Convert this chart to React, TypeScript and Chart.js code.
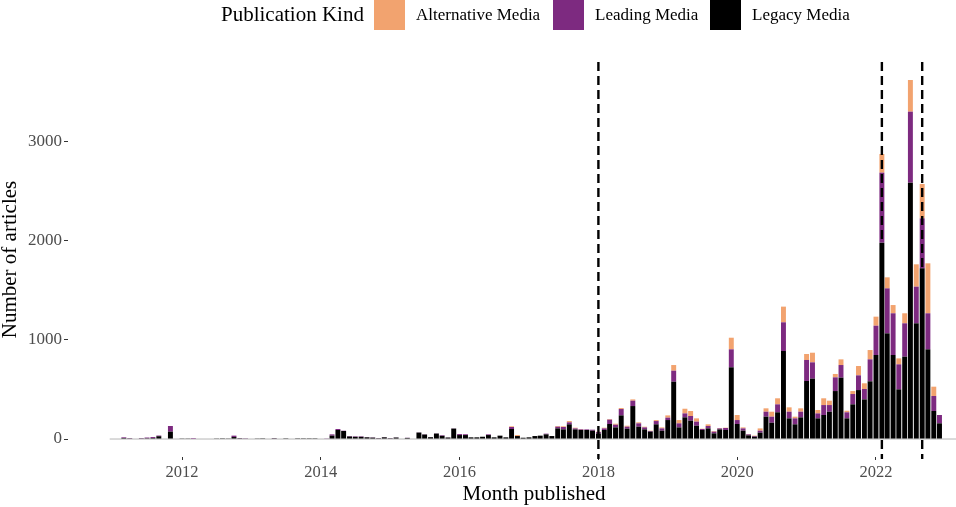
import React, { useEffect, useRef } from "react";
import { Chart, registerables } from "chart.js";

Chart.register(...registerables);

// monthly counts, Jan 2011 .. Dec 2022 (one row per year)
const legacyMedia = [
  5, 5, 10, 7, 5, 7, 8, 10, 28, 5, 74, 5,
  3, 3, 5, 5, 5, 5, 3, 2, 3, 20, 8, 6,
  5, 3, 2, 5, 8, 5, 2, 5, 2, 2, 2, 2,
  5, 5, 34, 91, 81, 25, 22, 22, 17, 14, 8, 17,
  8, 15, 5, 11, 5, 65, 45, 18, 55, 32, 15, 105,
  40, 40, 17, 17, 23, 40, 17, 34, 17, 101, 30, 13,
  17, 30, 34, 47, 30, 107, 97, 148, 97, 91, 91, 84,
  55, 91, 151, 117, 238, 104, 332, 124, 97, 74, 148, 84,
  191, 577, 117, 218, 185, 134, 91, 107, 57, 97, 91, 722,
  151, 84, 37, 23, 64, 225, 164, 269, 886, 208, 148, 218,
  584, 608, 208, 242, 275, 483, 618, 208, 349, 493, 399, 581,
  846, 1977, 1064, 846, 500, 829, 2581, 1165, 1719, 903, 282, 158,
];

const leadingMedia = [
  0, 0, 7, 3, 0, 3, 7, 10, 7, 0, 57, 0,
  0, 0, 5, 0, 0, 0, 0, 0, 0, 14, 2, 2,
  0, 0, 0, 0, 2, 0, 0, 0, 0, 0, 0, 0,
  0, 2, 13, 10, 3, 5, 5, 5, 3, 3, 2, 3,
  2, 2, 0, 2, 0, 2, 3, 2, 2, 6, 2, 2,
  10, 8, 0, 0, 0, 7, 0, 0, 0, 20, 0, 0,
  0, 0, 0, 7, 0, 17, 24, 20, 10, 6, 6, 10,
  15, 16, 44, 27, 64, 20, 54, 34, 20, 7, 33, 23,
  24, 111, 41, 40, 47, 41, 10, 24, 17, 10, 20, 181,
  40, 23, 10, 7, 20, 50, 61, 80, 289, 67, 60, 57,
  212, 164, 50, 100, 67, 138, 127, 61, 104, 148, 105, 221,
  295, 705, 453, 420, 252, 336, 715, 369, 503, 363, 151, 84,
];

const alternativeMedia = [
  0, 0, 0, 0, 0, 0, 0, 0, 0, 0, 0, 0,
  0, 0, 0, 0, 0, 0, 0, 0, 0, 0, 0, 0,
  0, 0, 0, 0, 0, 0, 0, 0, 0, 0, 0, 0,
  0, 0, 0, 0, 0, 0, 0, 0, 0, 0, 0, 0,
  0, 0, 0, 0, 0, 0, 0, 0, 0, 0, 0, 0,
  0, 0, 0, 0, 0, 0, 0, 0, 0, 7, 10, 0,
  0, 0, 0, 0, 0, 7, 7, 13, 7, 4, 0, 0,
  4, 7, 6, 10, 10, 10, 13, 10, 7, 3, 10, 10,
  23, 57, 33, 47, 50, 33, 3, 17, 7, 4, 3, 117,
  51, 10, 3, 4, 23, 34, 50, 61, 158, 44, 17, 34,
  60, 97, 34, 68, 44, 34, 57, 16, 30, 94, 57, 94,
  91, 188, 111, 83, 60, 101, 319, 225, 346, 503, 94, 0,
];

const firstYear = 2011;
const lastYear = 2022;
const xTicks = [2012, 2014, 2016, 2018, 2020, 2022];
const yTicks = [0, 1000, 2000, 3000];
const eventDates = ["2018-01-01", "2022-02-01", "2022-09-01"];

const ORANGE = "#F2A36F";
const PURPLE = "#7D2A80";
const BLACK = "#000000";
const SERIF = "'Liberation Serif', 'Times New Roman', serif";

// "YYYY-MM-DD" -> fractional year
const toYear = (iso: string) => {
  const [y, m, d] = iso.split("-").map(Number);
  const start = Date.UTC(y, 0, 1);
  const end = Date.UTC(y + 1, 0, 1);
  return y + (Date.UTC(y, m - 1, d) - start) / (end - start);
};

const months: string[] = [];
for (let y = firstYear; y <= lastYear; y++) {
  for (let m = 1; m <= 12; m++) {
    months.push(`${y}-${String(m).padStart(2, "0")}-01`);
  }
}
const monthX = months.map(toYear);

const legendItems = [
  { label: "Alternative Media", color: ORANGE, box: 374, text: 416 },
  { label: "Leading Media", color: PURPLE, box: 553, text: 595 },
  { label: "Legacy Media", color: BLACK, box: 710, text: 752 },
];

const overlayPlugin = {
  id: "overlay",
  beforeDatasetsDraw(chart: any) {
    const { ctx, chartArea, scales } = chart;
    const y0 = scales.y.getPixelForValue(0);
    const xStart = scales.x.getPixelForValue(monthX[0] - 1 / 24);
    ctx.save();
    ctx.strokeStyle = "#b5b5b5";
    ctx.lineWidth = 1;
    ctx.beginPath();
    ctx.moveTo(xStart, y0);
    ctx.lineTo(chartArea.right, y0);
    ctx.stroke();
    ctx.restore();
  },
  afterDatasetsDraw(chart: any) {
    const { ctx, chartArea, scales } = chart;
    ctx.save();
    ctx.strokeStyle = "#000";
    ctx.lineWidth = 2.4;
    ctx.setLineDash([9, 5]);
    eventDates.forEach((d) => {
      const px = scales.x.getPixelForValue(toYear(d));
      ctx.beginPath();
      ctx.moveTo(px, chartArea.top);
      ctx.lineTo(px, chartArea.bottom + 2);
      ctx.stroke();
    });
    ctx.restore();
  },
  afterDraw(chart: any) {
    const { ctx } = chart;
    ctx.save();
    ctx.textBaseline = "middle";
    ctx.fillStyle = "#000";
    ctx.font = `21px ${SERIF}`;
    ctx.fillText("Publication Kind", 221, 15);
    ctx.font = `17px ${SERIF}`;
    legendItems.forEach((item) => {
      ctx.fillStyle = item.color;
      ctx.fillRect(item.box, -2, 31, 32);
      ctx.fillStyle = "#000";
      ctx.fillText(item.label, item.text, 16);
    });
    // x axis title
    ctx.textAlign = "center";
    ctx.font = `21px ${SERIF}`;
    ctx.fillText("Month published", 534, 494);
    ctx.restore();
  },
};

const App: React.FC = () => {
  const canvasRef = useRef<HTMLCanvasElement | null>(null);
  const chartRef = useRef<Chart | null>(null);

  useEffect(() => {
    if (!canvasRef.current) return;
    if (chartRef.current) chartRef.current.destroy();

    const series = [
      { label: "Legacy Media", values: legacyMedia, color: BLACK },
      { label: "Leading Media", values: leadingMedia, color: PURPLE },
      { label: "Alternative Media", values: alternativeMedia, color: ORANGE },
    ];

    chartRef.current = new Chart(canvasRef.current, {
      type: "bar",
      data: {
        datasets: series.map((s) => ({
          label: s.label,
          data: s.values.map((v, i) => ({ x: monthX[i], y: v })),
          backgroundColor: s.color,
          borderWidth: 0,
          barPercentage: 0.93,
          categoryPercentage: 1,
        })),
      },
      options: {
        responsive: false,
        animation: false,
        layout: { padding: { top: 62, right: 0, bottom: 0, left: 0 } },
        plugins: {
          legend: { display: false },
          tooltip: { enabled: false },
        },
        scales: {
          x: {
            type: "linear",
            stacked: true,
            offset: false,
            bounds: "data",
            min: 2010.357,
            max: 2023.153,
            afterFit: (s: any) => {
              s.height = 50;
            },
            afterBuildTicks: (s: any) => {
              s.ticks = xTicks.map((v) => ({ value: v }));
            },
            ticks: {
              color: "#4d4d4d",
              font: { family: SERIF, size: 16.5 },
              padding: 3,
              maxRotation: 0,
              autoSkip: false,
              callback: (v: any) => String(v),
            },
            grid: {
              drawOnChartArea: false,
              offset: false,
              tickLength: 3,
              color: "#333",
            },
            border: { display: false },
          },
          y: {
            stacked: true,
            min: -181,
            max: 3796,
            afterFit: (s: any) => {
              s.width = 68;
            },
            afterBuildTicks: (s: any) => {
              s.ticks = yTicks.map((v) => ({ value: v }));
            },
            ticks: {
              color: "#4d4d4d",
              font: { family: SERIF, size: 17 },
              padding: 2,
              callback: (v: any) => String(v),
            },
            grid: {
              drawOnChartArea: false,
              tickLength: 4,
              color: "#333",
            },
            border: { display: false },
            title: {
              display: true,
              text: "Number of articles",
              color: "#000",
              font: { family: SERIF, size: 21, lineHeight: 1 },
              padding: { top: 0, bottom: 0 },
            },
          },
        },
      },
      plugins: [overlayPlugin],
    } as any);

    return () => {
      if (chartRef.current) {
        chartRef.current.destroy();
        chartRef.current = null;
      }
    };
  }, []);

  return (
    <div
      style={{
        position: "fixed",
        left: 0,
        top: 0,
        width: 956,
        height: 507,
        background: "#fff",
      }}
    >
      <canvas ref={canvasRef} width={956} height={507} />
    </div>
  );
};

export default App;
